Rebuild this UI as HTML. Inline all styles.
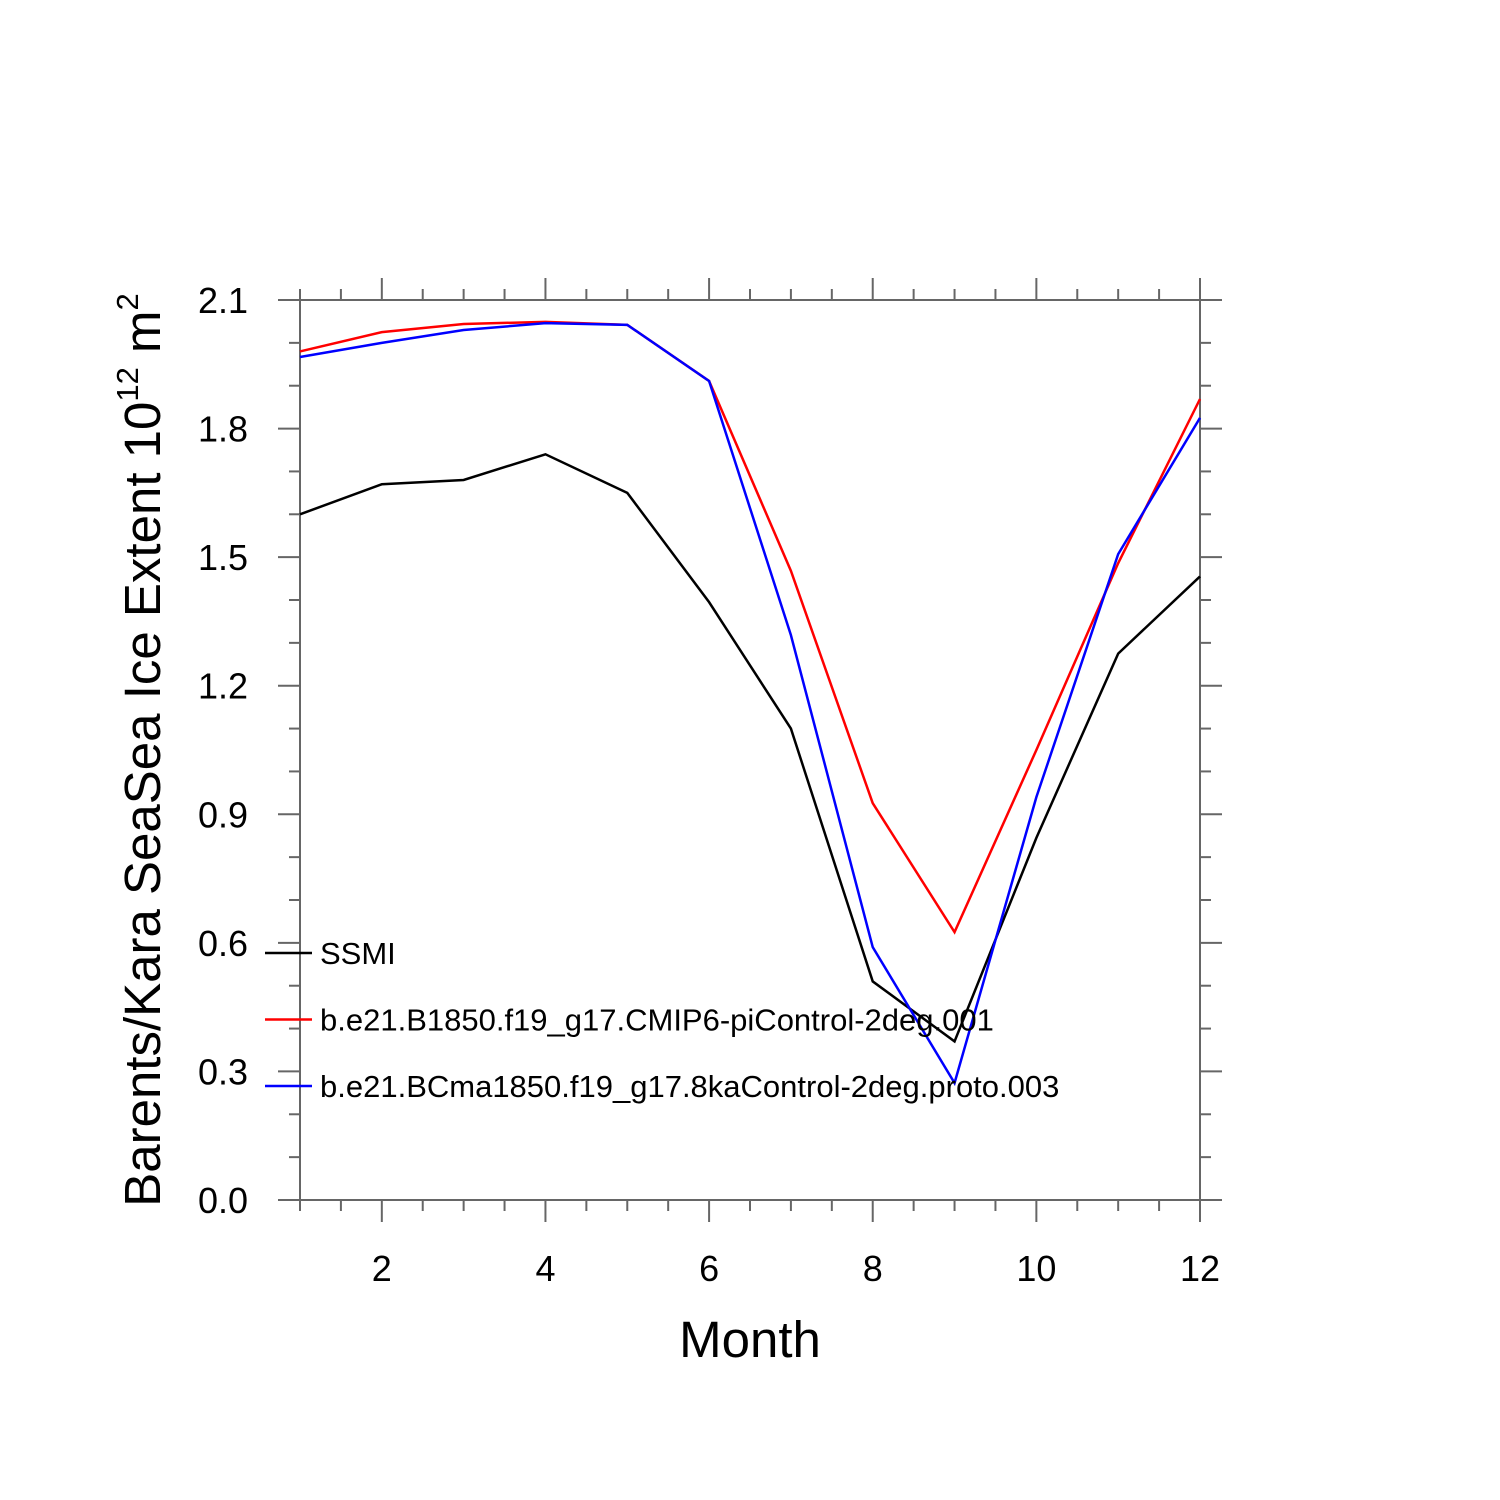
<!DOCTYPE html>
<html><head><meta charset="utf-8"><style>body{margin:0;background:#fff}svg{display:block;font-family:"Liberation Sans",sans-serif}</style></head>
<body>
<svg id="c" width="1500" height="1500" viewBox="0 0 1500 1500">
<g id="axes"></g><g id="lines"></g><g id="legend"></g>
<text x="750" y="1357" font-size="51" text-anchor="middle">Month</text>
<text transform="translate(160,750) rotate(-90)" font-size="51" text-anchor="middle">Barents/Kara SeaSea Ice Extent 10<tspan dy="-22" font-size="31">12</tspan><tspan dy="22"> m</tspan><tspan dy="-22" font-size="31">2</tspan></text>
</svg>
<script>
const months=[1,2,3,4,5,6,7,8,9,10,11,12];
const ssmi=[1.60,1.67,1.68,1.74,1.65,1.395,1.10,0.51,0.37,0.845,1.275,1.455];
const piControl=[1.98,2.025,2.044,2.049,2.042,1.911,1.468,0.926,0.625,1.05,1.486,1.869];
const kaControl=[1.967,2.0,2.03,2.046,2.042,1.911,1.318,0.59,0.273,0.94,1.507,1.825];
const xTicks=[2,4,6,8,10,12];
const yTicks=[0.0,0.3,0.6,0.9,1.2,1.5,1.8,2.1];
const seriesNames=["SSMI","b.e21.B1850.f19_g17.CMIP6-piControl-2deg.001","b.e21.BCma1850.f19_g17.8kaControl-2deg.proto.003"];
const NS="http://www.w3.org/2000/svg";
const X=m=>300+(m-1)*900/11, Y=v=>1200-v*900/2.1;
function mk(p,t,a){const e=document.createElementNS(NS,t);for(const k in a)e.setAttribute(k,a[k]);p.appendChild(e);return e;}
const ax=document.getElementById('axes');
const st={stroke:"#666","stroke-width":2};
function ln(x1,y1,x2,y2,name){const e=mk(ax,'line',Object.assign({x1,y1,x2,y2},st));

}
ln(300,300,1200,300,'plot-frame-top');ln(300,1200,1200,1200,'plot-frame-bottom');
ln(300,300,300,1200,'plot-frame-left');ln(1200,300,1200,1200,'plot-frame-right');
for(let m=1;m<=12.001;m+=0.5){const maj=Math.abs(m%2)<1e-6;const L=maj?22:11;
ln(X(m),300,X(m),300-L,'x-tick-top');ln(X(m),1200,X(m),1200+L,'x-tick-bottom');}
for(let i=0;i<=21;i++){const v=i*0.1;const maj=i%3===0;const L=maj?22:11;
ln(300,Y(v),300-L,Y(v),'y-tick-left');ln(1200,Y(v),1200+L,Y(v),'y-tick-right');}
xTicks.forEach(t=>{const e=mk(ax,'text',{x:X(t),y:1281,"font-size":36,"text-anchor":"middle"});e.textContent=t;

});
yTicks.forEach(t=>{const e=mk(ax,'text',{x:248,y:Y(t)+13,"font-size":36,"text-anchor":"end"});e.textContent=t.toFixed(1);

});
const lg=document.getElementById('lines');
const data=[ssmi,piControl,kaControl],cols=["#000","#f00","#00f"],nm=["ssmi-line","picontrol-line","8kacontrol-line"];
data.forEach((d,i)=>{const e=mk(lg,'polyline',{points:d.map((v,j)=>X(months[j])+","+Y(v)).join(" "),fill:"none",stroke:cols[i],"stroke-width":2.5});

});
const leg=document.getElementById('legend');
seriesNames.forEach((s,i)=>{const y=953+i*66.5;
const l=mk(leg,'line',{x1:265,y1:y,x2:312,y2:y,stroke:cols[i],"stroke-width":2.5});


const t=mk(leg,'text',{x:320,y:y+11,"font-size":31});t.textContent=s;

});
</script>
</body></html>
